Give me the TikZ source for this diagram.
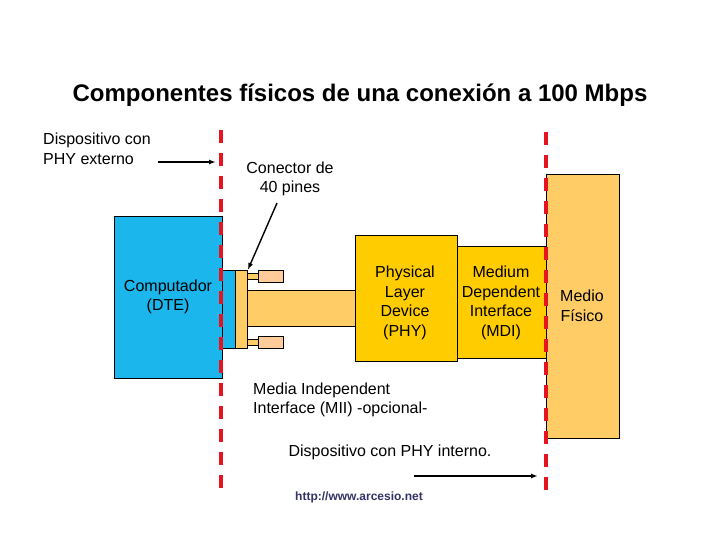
\documentclass[tikz,border=0pt]{standalone}
\usepackage{fontspec}
\setmainfont{Liberation Sans}
\usetikzlibrary{arrows.meta}
\definecolor{dteblue}{RGB}{26,182,236}
\definecolor{phygold}{RGB}{255,204,0}
\definecolor{lightor}{RGB}{255,204,102}
\definecolor{pinor}{RGB}{255,204,153}
\definecolor{urlblue}{RGB}{51,51,102}
\definecolor{dashred}{RGB}{230,20,30}
\begin{document}
\begin{tikzpicture}[x=1pt,y=-1pt,
  box/.style={draw=black, line width=0.8pt, inner sep=0pt, anchor=north west},
  lbl/.style={font=\fontsize{16}{19.5}\selectfont, align=center, inner sep=0pt},
  redline/.style={draw=dashred, line width=4pt, dash pattern=on 13pt off 10pt},
  arr/.style={-{Latex[length=7pt,width=5pt]}, line width=1.4pt}]
\useasboundingbox (0,0) rectangle (720,540);
% title
\node[font=\fontsize{24}{28}\selectfont\bfseries, inner sep=0pt] (title) at (360,95) {Componentes físicos de una conexión a 100 Mbps};
% boxes
\node[box, fill=lightor, minimum width=73pt, minimum height=264pt] (medio) at (546,174) {};
\node[lbl] (mediot) at (582,306) {Medio\\Físico};
\node[box, fill=dteblue, minimum width=108pt, minimum height=162pt] (dte) at (114,216) {};
\node[lbl] (dtet) at (168,297) {Computador\\(DTE)};
\node[box, fill=dteblue, minimum width=13pt, minimum height=78pt] (dtecon) at (222,270) {};
\node[box, fill=lightor, minimum width=108pt, minimum height=36pt] (cable) at (247,290) {};
\node[box, fill=lightor, minimum width=12pt, minimum height=78pt] (plate) at (235,270) {};
\node[box, fill=lightor, minimum width=11pt, minimum height=6pt] (pin1) at (247,273) {};
\node[box, fill=pinor, minimum width=25pt, minimum height=12pt] (head1) at (258,270) {};
\node[box, fill=lightor, minimum width=11pt, minimum height=6pt] (pin2) at (247,339) {};
\node[box, fill=pinor, minimum width=25pt, minimum height=12pt] (head2) at (258,336) {};
\node[box, fill=phygold, minimum width=102pt, minimum height=126pt] (phy) at (355,235) {};
\node[lbl] (phyt) at (405,303) {Physical\\Layer\\Device\\(PHY)};
\node[box, fill=phygold, minimum width=89pt, minimum height=112pt] (mdi) at (457,246) {};
\node[lbl] (mdit) at (501,303) {Medium\\Dependent\\Interface\\(MDI)};
% red dashed lines
\coordinate (r1a) at (221,130); \coordinate (r1b) at (221,492);
\coordinate (r2a) at (546,132); \coordinate (r2b) at (546,492);
\draw[redline] (r1a) -- (r1b);
\draw[redline] (r2a) -- (r2b);
% texts
\node[lbl, align=left, anchor=west] (ext) at (43,149) {Dispositivo con\\PHY externo};
\node[lbl] (con) at (290,179) {Conector de\\40 pines};
\node[lbl, align=left, anchor=west] (mii) at (253,400) {Media Independent\\Interface (MII) -opcional-};
\node[lbl] (int) at (390,452) {Dispositivo con PHY interno.};
\node[font=\fontsize{12}{14}\selectfont\bfseries, text=urlblue, inner sep=0pt] (url) at (359,497) {http://www.arcesio.net};
% arrows
\coordinate (a1s) at (158,162); \coordinate (a1e) at (216,162);
\draw[arr] (a1s) -- (a1e);
\coordinate (a2s) at (277,203);
\draw[arr] (a2s) -- (plate.north east);
\coordinate (a3s) at (414,476); \coordinate (a3e) at (538,476);
\draw[arr] (a3s) -- (a3e);
\end{tikzpicture}
\end{document}
